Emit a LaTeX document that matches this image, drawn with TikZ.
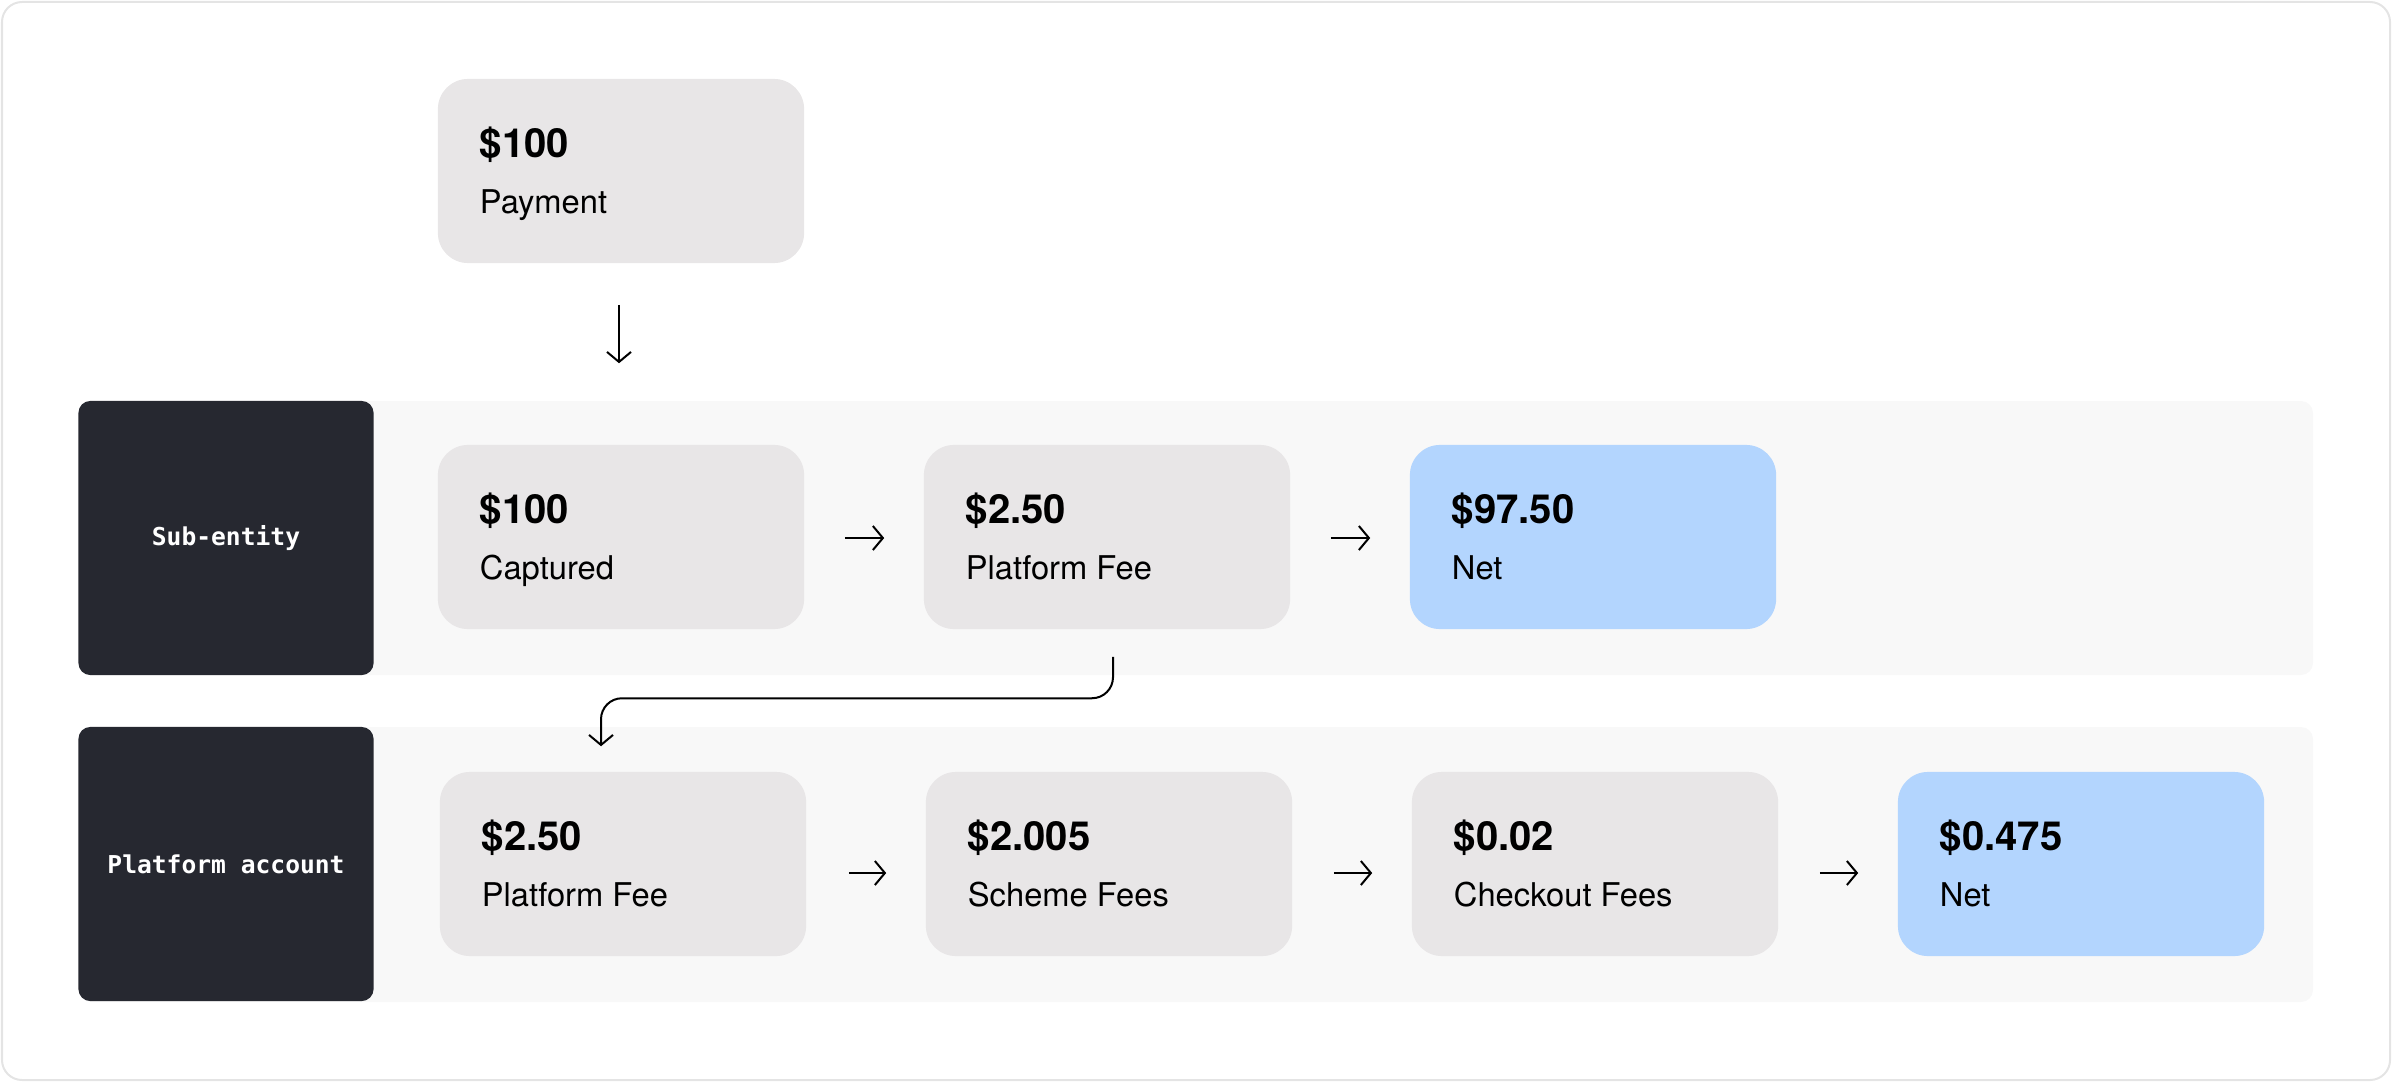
\documentclass[tikz,border=0pt]{standalone}
\usepackage{fontspec}
\setmainfont{TeX Gyre Heros}
\setmonofont{DejaVu Sans Mono}
\usetikzlibrary{arrows.meta}

\definecolor{cardgray}{HTML}{E8E6E7}
\definecolor{bandgray}{HTML}{F8F8F8}
\definecolor{tagdark}{HTML}{262830}
\definecolor{netblue}{HTML}{B3D5FE}
\definecolor{framegray}{HTML}{E4E4E4}

\tikzset{
    card/.style={fill=cardgray, rounded corners=0.3cm, minimum width=3.66cm, minimum height=1.84cm, inner sep=0pt},
    netcard/.style={card, fill=netblue},
    amount/.style={anchor=base west, inner sep=0pt, font=\fontsize{11.4}{13}\selectfont\bfseries},
    what/.style={anchor=base west, inner sep=0pt, font=\fontsize{9.3}{11}\selectfont},
    tag/.style={fill=tagdark, text=white, rounded corners=0.12cm, minimum width=2.95cm, minimum height=2.74cm, inner sep=0pt, font=\fontsize{7}{8}\selectfont\ttfamily\bfseries},
    band/.style={fill=bandgray, rounded corners=0.12cm},
    flow/.style={-{Straight Barb[length=0.1cm,width=0.24cm]}, line width=0.02cm}
}

\begin{document}
\begin{tikzpicture}[x=0.01cm, y=-0.01cm]
    \useasboundingbox (0,0) rectangle (2392,1082);
    \draw[framegray, line width=0.02cm, rounded corners=0.2cm] (2,2) rectangle (2390,1080);

    % payment on top
    \node[card] (pay) at (621,171) {};
    \node[amount] (pay-amt) at ([shift={(42,79)}]pay.north west) {\$100};
    \node[what] (pay-lbl) at ([shift={(42,135)}]pay.north west) {Payment};

    % sub-entity row
    \fill[band] (79,401) rectangle (2313,675);
    \node[tag] (sub) at (226,538) {Sub-entity};

    \node[card] (cap) at (621,537) {};
    \node[amount] (cap-amt) at ([shift={(42,79)}]cap.north west) {\$100};
    \node[what] (cap-lbl) at ([shift={(42,135)}]cap.north west) {Captured};

    \node[card] (fee) at (1107,537) {};
    \node[amount] (fee-amt) at ([shift={(42,79)}]fee.north west) {\$2.50};
    \node[what] (fee-lbl) at ([shift={(42,135)}]fee.north west) {Platform Fee};

    \node[netcard] (net) at (1593,537) {};
    \node[amount] (net-amt) at ([shift={(42,79)}]net.north west) {\$97.50};
    \node[what] (net-lbl) at ([shift={(42,135)}]net.north west) {Net};

    % platform account row
    \fill[band] (79,727) rectangle (2313,1002);
    \node[tag] (plat) at (226,864) {Platform account};

    \node[card] (pfee) at (623,864) {};
    \node[amount] (pfee-amt) at ([shift={(42,79)}]pfee.north west) {\$2.50};
    \node[what] (pfee-lbl) at ([shift={(42,135)}]pfee.north west) {Platform Fee};

    \node[card] (scheme) at (1109,864) {};
    \node[amount] (scheme-amt) at ([shift={(42,79)}]scheme.north west) {\$2.005};
    \node[what] (scheme-lbl) at ([shift={(42,135)}]scheme.north west) {Scheme Fees};

    \node[card] (cko) at (1595,864) {};
    \node[amount] (cko-amt) at ([shift={(42,79)}]cko.north west) {\$0.02};
    \node[what] (cko-lbl) at ([shift={(42,135)}]cko.north west) {Checkout Fees};

    \node[netcard] (pnet) at (2081,864) {};
    \node[amount] (pnet-amt) at ([shift={(42,79)}]pnet.north west) {\$0.475};
    \node[what] (pnet-lbl) at ([shift={(42,135)}]pnet.north west) {Net};

    % arrows
    \draw[flow] ([shift={(-2,41)}]pay.south) -- ([shift={(-2,-81)}]cap.north);
    \draw[flow] ([shift={(40,1)}]cap.east) -- ([shift={(-39,1)}]fee.west);
    \draw[flow] ([shift={(40,1)}]fee.east) -- ([shift={(-39,1)}]net.west);
    \draw[flow, rounded corners=0.21cm] ([shift={(6,27)}]fee.south) |- ([shift={(-22,-73)}]pfee.north) -- ([shift={(-22,-25)}]pfee.north);
    \draw[flow] ([shift={(42,9)}]pfee.east) -- ([shift={(-39,9)}]scheme.west);
    \draw[flow] ([shift={(41,9)}]scheme.east) -- ([shift={(-39,9)}]cko.west);
    \draw[flow] ([shift={(41,9)}]cko.east) -- ([shift={(-39,9)}]pnet.west);
\end{tikzpicture}
\end{document}
